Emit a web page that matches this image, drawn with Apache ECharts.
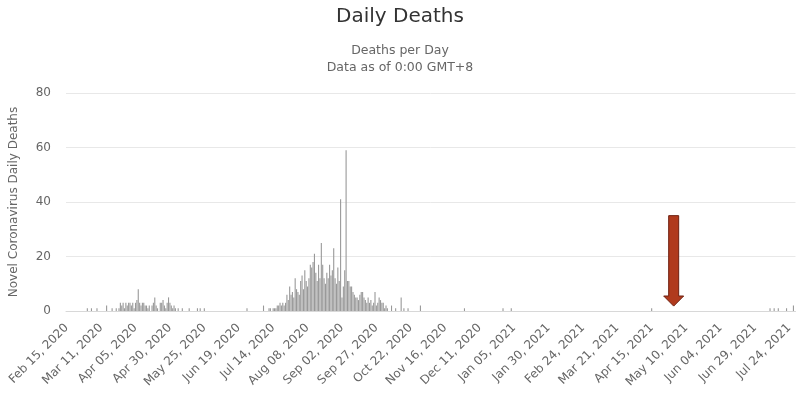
<!DOCTYPE html>
<html>
<head>
<meta charset="utf-8">
<script src="https://cdn.jsdelivr.net/npm/echarts@6/dist/echarts.min.js"></script>
<style>html,body{margin:0;padding:0;background:#fff;}#c{width:800px;height:405px;}</style>
</head>
<body>
<div id="c"></div>
<script>
// Daily values, one array per month (Feb 15, 2020 -> Jul 28, 2021)
const feb2020 = [0,0,0,0,0,0,0,0,0,0,0,0,0,0,0];
const mar2020 = [1,0,0,1,0,0,0,1,0,0, 0,0,0,0,2,0,0,0,1,0, 0,1,0,1,3,2,3,1,3,2, 3];
const apr2020 = [3,2,3,1,3,4,8,3,2,3, 3,2,2,1,2,0,2,3,5,2, 1,0,3,3,4,2,1,3,5,3];
const may2020 = [2,1,2,1,0,1,0,0,1,0, 0,0,0,1,0,0,0,0,0,1, 0,1,0,0,1,0,0,0,0,0, 0];
const jun2020 = [0,0,0,0,0,0,0,0,0,0, 0,0,0,0,0,0,0,0,0,0, 0,0,0,0,1,0,0,0,0,0];
const jul2020 = [0,0,0,0,0,0,2,0,0,0, 1,1,0,1,1,1,2,2,3,2, 3,2,3,6,4,9,6,7,5,12, 8];
const aug2020 = [7,6,11,13,8,15,11,9,12,17, 16,18,21,14,11,17,12,25,17,12, 10,14,12,17,13,15,23,12,10,16, 11];
const sep2020 = [41,5,9,15,59,11,11,9,9,7, 6,5,5,4,6,7,7,5,4,3, 5,3,4,2,3,7,2,3,5,4];
const oct2020 = [3,3,1,2,1,0,0,2,0,0, 1,0,0,0,5,0,1,0,0,1, 0,0,0,0,0,0,0,0,2,0, 0];
const nov2020 = [0,0,0,0,0,0,0,0,0,0, 0,0,0,0,0,0,0,0,0,0, 0,0,0,0,0,0,0,0,0,1];
const dec2020 = [0,0,0,0,0,0,0,0,0,0, 0,0,0,0,0,0,0,0,0,0, 0,0,0,0,0,0,0,1,0,0, 0];
const jan2021 = [0,0,1,0,0,0,0,0,0,0, 0,0,0,0,0,0,0,0,0,0, 0,0,0,0,0,0,0,0,0,0, 0];
const feb2021 = [0,0,0,0,0,0,0,0,0,0, 0,0,0,0,0,0,0,0,0,0, 0,0,0,0,0,0,0,0];
const mar2021 = [0,0,0,0,0,0,0,0,0,0, 0,0,0,0,0,0,0,0,0,0, 0,0,0,0,0,0,0,0,0,0, 0];
const apr2021 = [0,0,0,0,0,0,0,0,0,0, 0,0,0,0,1,0,0,0,0,0, 0,0,0,0,0,0,0,0,0,0];
const may2021 = [0,0,0,0,0,0,0,0,0,0, 0,0,0,0,0,0,0,0,0,0, 0,0,0,0,0,0,0,0,0,0, 0];
const jun2021 = [0,0,0,0,0,0,0,0,0,0, 0,0,0,0,0,0,0,0,0,0, 0,0,0,0,0,0,0,0,0,0];
const jul2021 = [0,0,0,0,0,0,0,0,0,1, 0,0,1,0,0,1,0,0,0,0, 0,1,0,0,0,0,2,0];

const dailyDeaths = [].concat(feb2020, mar2020, apr2020, may2020, jun2020, jul2020, aug2020,
  sep2020, oct2020, nov2020, dec2020, jan2021, feb2021, mar2021, apr2021, may2021, jun2021, jul2021);

const START_DATE = [2020, 1, 15]; // Feb 15, 2020
const MONTHS = ['Jan','Feb','Mar','Apr','May','Jun','Jul','Aug','Sep','Oct','Nov','Dec'];
const categories = [];
for (let i = 0; i < dailyDeaths.length; i++) {
  const d = new Date(Date.UTC(START_DATE[0], START_DATE[1], START_DATE[2] + i));
  categories.push(MONTHS[d.getUTCMonth()] + ' ' + String(d.getUTCDate()).padStart(2, '0') + ', ' + d.getUTCFullYear());
}
const yTicks = [0, 20, 40, 60, 80];
const titleText = 'Daily Deaths';
const subtitleLines = ['Deaths per Day', 'Data as of 0:00 GMT+8'];
const yAxisName = 'Novel Coronavirus Daily Deaths';
const arrowDate = 'May 01, 2021';
const arrowValues = { top: 35, headBase: 5.5, tip: 1.8 };

const FONT = 'DejaVu Sans';
const chart = echarts.init(document.getElementById('c'), null, { renderer: 'canvas' });
chart.setOption({
  animation: false,
  backgroundColor: '#ffffff',
  title: [
    { text: titleText, left: 'center', top: 2,
      textStyle: { fontFamily: FONT, fontSize: 20, fontWeight: 'normal', color: '#333333' } },
    { text: subtitleLines.join('\n'), left: 'center', top: 37,
      textStyle: { fontFamily: FONT, fontSize: 12.5, fontWeight: 'normal', color: '#666666', lineHeight: 17 } }
  ],
  grid: { left: 65.5, right: 4.5, top: 93, bottom: 94, containLabel: false },
  xAxis: {
    type: 'category',
    data: categories,
    boundaryGap: true,
    axisLine: { show: true, lineStyle: { color: '#d8d8d8', width: 1 } },
    axisTick: { show: false },
    axisLabel: {
      interval: 24, rotate: 45, margin: 15,
      fontFamily: FONT, fontSize: 12, color: '#666666'
    },
    splitLine: { show: false }
  },
  yAxis: {
    type: 'value',
    min: yTicks[0], max: yTicks[yTicks.length - 1], interval: 20,
    name: yAxisName, nameLocation: 'middle', nameGap: 46, nameRotate: 90,
    nameTextStyle: { fontFamily: FONT, fontSize: 12, color: '#666666' },
    axisLine: { show: false },
    axisTick: { show: false },
    axisLabel: { margin: 15, fontFamily: FONT, fontSize: 12, color: '#666666' },
    splitLine: { show: true, lineStyle: { color: '#e8e8e8', width: 1 } }
  },
  series: [{
    type: 'bar',
    data: dailyDeaths,
    barCategoryGap: '20%',
    itemStyle: { color: '#999999' },
    silent: true
  }]
});

function drawArrow() {
  const p1 = chart.convertToPixel({ xAxisIndex: 0, yAxisIndex: 0 }, [arrowDate, arrowValues.top]);
  const p2 = chart.convertToPixel({ xAxisIndex: 0, yAxisIndex: 0 }, [arrowDate, arrowValues.headBase]);
  const p3 = chart.convertToPixel({ xAxisIndex: 0, yAxisIndex: 0 }, [arrowDate, arrowValues.tip]);
  const x = p1[0], sw = 5, hw = 10;
  chart.setOption({
    graphic: [{
      type: 'polygon',
      shape: { points: [
        [x - sw, p1[1]], [x + sw, p1[1]], [x + sw, p2[1]], [x + hw, p2[1]],
        [x, p3[1]], [x - hw, p2[1]], [x - sw, p2[1]]
      ] },
      style: { fill: '#b03a1d', stroke: '#6e2010', lineWidth: 1 },
      z: 100
    }]
  });
}
drawArrow();
</script>
</body>
</html>
